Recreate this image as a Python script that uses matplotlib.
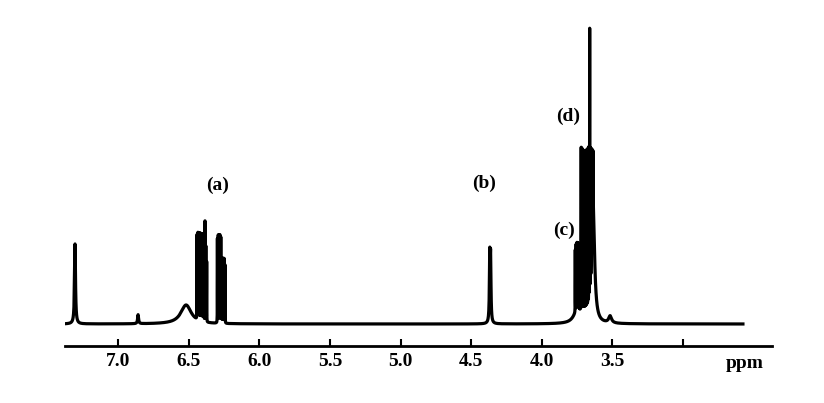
import numpy as np
import matplotlib
matplotlib.use('Agg')
import matplotlib.pyplot as plt

# Peaks: position (ppm), height above baseline, half width (ppm)
# single lines and broad humps
single_ppm = [7.307, 6.860, 6.520, 4.368, 4.362, 3.515, 3.635, 3.750]
single_height = [80, 9, 19, 64, 62, 7, 115, 12]
single_width = [0.004, 0.004, 0.045, 0.003, 0.003, 0.012, 0.012, 0.03]

# (a) multiplets, unresolved lines
a_ppm = [6.442, 6.436, 6.430, 6.424, 6.418, 6.412, 6.406, 6.400, 6.394,
         6.386, 6.380, 6.374,
         6.298, 6.292, 6.286, 6.280, 6.274, 6.268, 6.262, 6.256, 6.250, 6.244]
a_height = [84, 86, 86, 86, 86, 86, 86, 86, 84,
            100, 75, 60,
            84, 87, 87, 87, 85, 64, 64, 64, 64, 58]

# (c) + (d) region, unresolved lines
cd_ppm = [3.762, 3.756, 3.750, 3.744, 3.738, 3.732, 3.726,
          3.720, 3.714, 3.708, 3.702, 3.696, 3.690, 3.684, 3.678, 3.672,
          3.666, 3.660, 3.654, 3.648, 3.642, 3.636]
cd_height = [62, 66, 67, 67, 67, 67, 67,
             166, 165, 164, 163, 162, 162, 162, 161, 160,
             157, 270, 139, 119, 86, 57]
multi_width = 0.0005

tick_values = [7.0, 6.5, 6.0, 5.5, 5.0, 4.5, 4.0, 3.5, 3.0]
tick_labels = ['7.0', '6.5', '6.0', '5.5', '5.0', '4.5', '4.0', '3.5', '']

peak_names = ['(a)', '(b)', '(c)', '(d)']
name_ppm = [6.30, 4.41, 3.845, 3.81]
name_y = [139, 141, 94, 208]

# Build the trace
ppm = np.arange(2.574, 7.372, 0.0001)
signal = np.zeros_like(ppm)
for p, h, w in zip(single_ppm, single_height, single_width):
    signal += h / (1 + ((ppm - p) / w) ** 2)
for p, h in zip(a_ppm + cd_ppm, a_height + cd_height):
    signal += h / (1 + ((ppm - p) / multi_width) ** 2)

fig = plt.figure(figsize=(8.24, 4.03), dpi=100)
ax = fig.add_axes([65 / 824, 57 / 403, 707 / 824, 326 / 403])
ax.plot(ppm, signal, color='black', lw=2.3, solid_joinstyle='round')
ax.set_xlim(7.378, 2.368)
ax.set_ylim(-22, 304)

for s in ['top', 'left', 'right']:
    ax.spines[s].set_visible(False)
ax.spines['bottom'].set_linewidth(2)
ax.set_yticks([])
ax.set_xticks(tick_values)
ax.set_xticklabels(tick_labels, family='Liberation Serif', fontsize=14,
                   weight='bold')
ax.tick_params(axis='x', direction='in', length=5, width=1.5, pad=5)

for name, x, y in zip(peak_names, name_ppm, name_y):
    ax.text(x, y, name, family='Liberation Serif', fontsize=14,
            weight='bold', ha='center', va='center')
ax.text(2.56, -40, 'ppm', family='Liberation Serif', fontsize=14,
        weight='bold', ha='center', va='center')

fig.savefig('out.png', dpi=100)
